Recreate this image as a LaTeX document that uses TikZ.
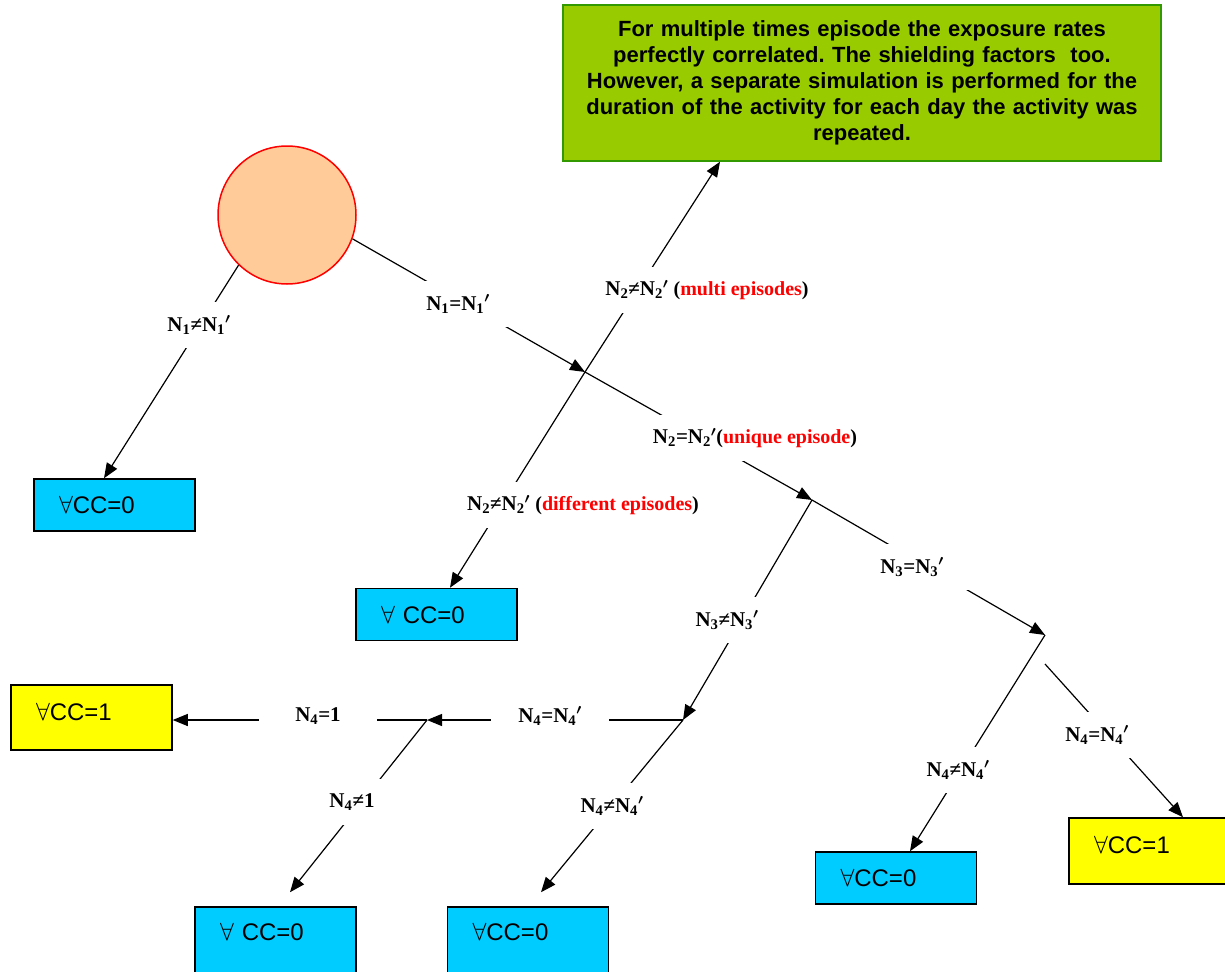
\documentclass[tikz,border=0pt]{standalone}
\usepackage{fontspec}
\setmainfont{Liberation Serif}
\newfontfamily\boxfont{Liberation Sans}
\usetikzlibrary{arrows.meta}
\definecolor{leafcyan}{HTML}{00CCFF}
\definecolor{leafyellow}{HTML}{FFFF00}
\definecolor{notegreen}{HTML}{99CC00}
\definecolor{noteedge}{HTML}{339900}
\definecolor{rootfill}{HTML}{FFCC99}
\newcommand{\Nk}[1]{N\textsubscript{#1}}
\newcommand{\Nkp}[1]{N\textsubscript{#1}$^{\prime}$}
\newcommand{\redpart}[1]{(\textcolor{red}{#1})}

\begin{document}
\begin{tikzpicture}[
  x=1pt, y=-1pt,
  >={Triangle[length=15pt,width=12pt]},
  leaf/.style={rectangle, draw=black, line width=1.5pt, minimum height=52pt,
    text width=111pt, inner xsep=25pt, align=left,
    font=\boxfont\fontsize{24}{28}\selectfont},
  cyanleaf/.style={leaf, fill=leafcyan},
  yellowleaf/.style={leaf, fill=leafyellow, minimum height=65pt, text depth=12pt},
  lbl/.style={fill=white, inner sep=2pt, minimum width=118pt, minimum height=46pt,
    font=\bfseries\boldmath\fontsize{21}{24}\selectfont},
  arr/.style={->, line width=1.2pt}
]
\useasboundingbox (0,0) rectangle (1225,971);

% ---- Start and note ----
\node[circle, draw=red, line width=1.5pt, fill=rootfill, minimum size=138pt] (root) at (287,215) {};
\node[rectangle, draw=noteedge, line width=1.5pt, fill=notegreen, minimum width=598pt,
  minimum height=156pt, text width=580pt, inner xsep=9pt, align=center,
  font=\boxfont\bfseries\fontsize{22}{26}\selectfont\frenchspacing] (multi) at (862,83)
  {For multiple times episode the exposure rates\\
   perfectly correlated. The shielding factors\ \ too.\\
   However, a separate simulation is performed for the\\
   duration of the activity for each day the activity was\\
   repeated.};

% ---- Leaves ----
\node[cyanleaf] (c1) at (114.5,505) {$\forall$CC=0};
\node[cyanleaf] (c2) at (436.5,614.5) {$\forall$ CC=0};
\node[yellowleaf] (y1) at (91.5,717.5) {$\forall$CC=1};
\node[cyanleaf, minimum height=66pt, text depth=16pt] (c3) at (275.5,940) {$\forall$ CC=0};
\node[cyanleaf, minimum height=66pt, text depth=16pt] (c4) at (528,940) {$\forall$CC=0};
\node[cyanleaf] (c5) at (896,878) {$\forall$CC=0};
\node[yellowleaf, minimum height=66pt, text width=109pt] (y2) at (1148.5,851) {$\forall$CC=1};

% ---- Branch points ----
\coordinate (j1) at (585,372);
\coordinate (j2) at (812,500);
\coordinate (j3) at (683,720);
\coordinate (j4) at (427,720);
\coordinate (j5) at (1045,635);

% ---- Branches ----
\draw[arr] (root.226) -- ([xshift=-10.5pt]c1.north);
\draw[arr] (root.-20) -- (j1);
\draw[arr] (j1) -- ([xshift=-142pt]multi.south);
\draw[arr] (j1) -- ([xshift=13.5pt]c2.north);
\draw[arr] (j1) -- (j2);
\draw[arr] (j2) -- (j3);
\draw[arr] (j2) -- (j5);
\draw[arr] (j3) -- (j4);
\draw[arr] (j3) -- ([xshift=13pt,yshift=14pt]c4.north);
\draw[arr] (j4) -- (j4 -| y1.east);
\draw[arr] (j4) -- ([xshift=14.5pt,yshift=14pt]c3.north);
\draw[arr] (j5) -- ([xshift=14pt]c5.north);
\draw[arr] ([yshift=-29pt]j5) -- ([xshift=34.5pt]y2.north);

% ---- Branch labels ----
\node[lbl] (l1) at (199,325) {\Nk{1}≠\Nkp{1}};
\node[lbl] (l2) at (458,304) {\Nk{1}=\Nkp{1}};
\node[lbl] (l3) at (707,290) {\Nk{2}≠\Nkp{2} {\fontsize{20}{24}\selectfont\redpart{multi episodes}}};
\node[lbl] (l4) at (755,438) {\Nk{2}=\Nkp{2}{\fontsize{20}{24}\selectfont\redpart{unique episode}}};
\node[lbl] (l5) at (583,505) {\Nk{2}≠\Nkp{2} {\fontsize{20}{24}\selectfont\redpart{different episodes}}};
\node[lbl] (l6) at (912,567) {\Nk{3}=\Nkp{3}};
\node[lbl] (l7) at (727,620) {\Nk{3}≠\Nkp{3}};
\node[lbl] (l8) at (550,716) {\Nk{4}=\Nkp{4}};
\node[lbl] (l9) at (318,716) {\Nk{4}=1};
\node[lbl] (l10) at (352,802) {\Nk{4}≠1};
\node[lbl] (l11) at (612,806) {\Nk{4}≠\Nkp{4}};
\node[lbl] (l12) at (958,770) {\Nk{4}≠\Nkp{4}};
\node[lbl] (l13) at (1097,735) {\Nk{4}=\Nkp{4}};

\end{tikzpicture}
\end{document}
